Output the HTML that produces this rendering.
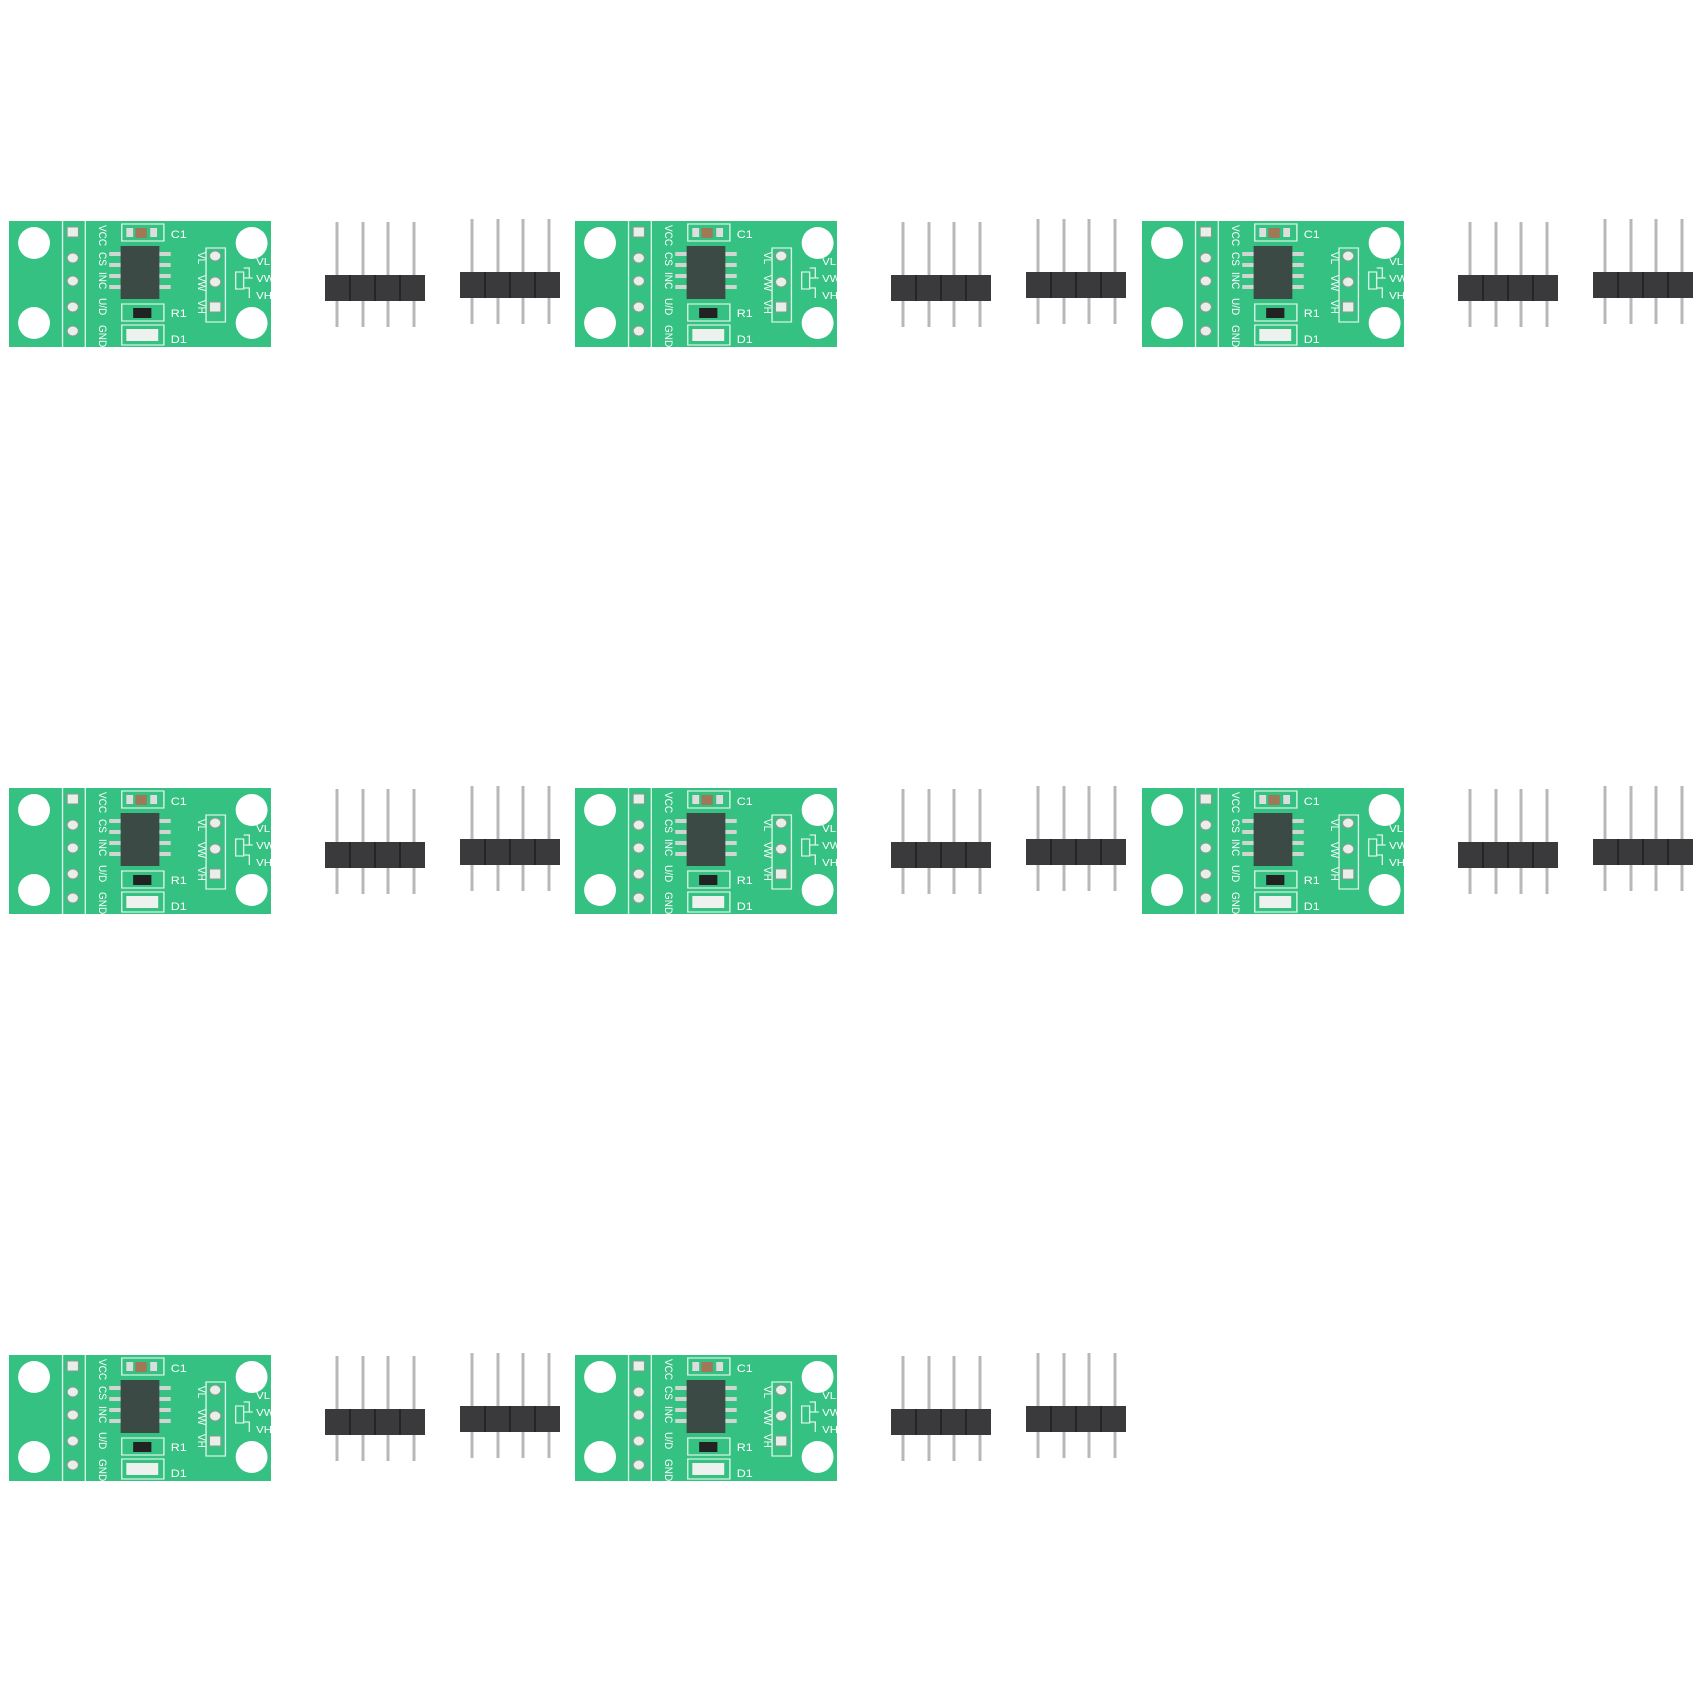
<!DOCTYPE html>
<html><head><meta charset="utf-8"><style>
html,body{margin:0;padding:0;background:#fff;}
svg{display:block;}
text{font-family:"Liberation Sans",sans-serif;}
</style></head><body>
<svg width="1700" height="1700" viewBox="0 0 1700 1700" xmlns="http://www.w3.org/2000/svg">
<defs>
<g id="hdr">
  <g stroke="#b8b8b8" stroke-width="3">
    <line x1="12" y1="0" x2="12" y2="105"/><line x1="38" y1="0" x2="38" y2="105"/>
    <line x1="63" y1="0" x2="63" y2="105"/><line x1="89" y1="0" x2="89" y2="105"/>
  </g>
  <rect x="0" y="53" width="100" height="26" fill="#3a3a3c"/>
  <g stroke="#1e1e1e" stroke-width="1.5">
    <line x1="25" y1="53" x2="25" y2="79"/><line x1="50" y1="53" x2="50" y2="79"/><line x1="75" y1="53" x2="75" y2="79"/>
  </g>
</g>
<g id="board">
  <rect x="7" y="221" width="230" height="126" fill="#34c182"/>
  <g stroke="#d9f5e7" stroke-width="1.2" fill="none">
    <line x1="54" y1="221" x2="54" y2="347"/><line x1="74" y1="221" x2="74" y2="347"/>
    <rect x="106" y="224" width="37" height="17"/>
    <rect x="106" y="304" width="37" height="17"/>
    <rect x="106" y="325" width="37" height="20"/>
    <rect x="180" y="248" width="17" height="74"/>
    <path d="M213 268 h5 v10 M213 278 h8 M213 288 h5 v10"/>
    <rect x="206" y="272" width="7" height="17"/>
  </g>
  <ellipse cx="29" cy="243" rx="14" ry="16" fill="#fff"/>
  <ellipse cx="29" cy="323" rx="14" ry="16" fill="#fff"/>
  <ellipse cx="220" cy="243" rx="14" ry="16" fill="#fff"/>
  <ellipse cx="220" cy="323" rx="14" ry="16" fill="#fff"/>
  <g fill="#e8efe9" stroke="#8a9a90" stroke-width="1">
    <rect x="58" y="227" width="10" height="10"/>
    <circle cx="63" cy="258" r="5"/><circle cx="63" cy="281" r="5"/>
    <circle cx="63" cy="307" r="5"/><circle cx="63" cy="331" r="5"/>
    <circle cx="188" cy="256" r="5"/><circle cx="188" cy="282" r="5"/>
    <rect x="183" y="302" width="10" height="10"/>
  </g>
  <rect x="118" y="228" width="10" height="10" fill="#a07858"/>
  <rect x="110" y="228" width="6" height="9" fill="#ddd"/>
  <rect x="131" y="228" width="6" height="9" fill="#ddd"/>
  <g fill="#cfd6d2">
    <rect x="95" y="252" width="12" height="4"/><rect x="95" y="263" width="12" height="4"/>
    <rect x="95" y="274" width="12" height="4"/><rect x="95" y="285" width="12" height="4"/>
    <rect x="137" y="252" width="12" height="4"/><rect x="137" y="263" width="12" height="4"/>
    <rect x="137" y="274" width="12" height="4"/><rect x="137" y="285" width="12" height="4"/>
  </g>
  <rect x="105" y="246" width="34" height="53" fill="#3b4a45"/>
  <rect x="116" y="308" width="16" height="10" fill="#222"/>
  <rect x="110" y="329" width="28" height="12" fill="#eef2ef"/>
  <g fill="#fff" font-size="11">
    <text x="149" y="238">C1</text><text x="149" y="317">R1</text><text x="149" y="343">D1</text>
    <text x="224" y="265" font-size="10">VL</text><text x="224" y="282" font-size="10">VW</text><text x="224" y="299" font-size="10">VH</text>
    <text transform="translate(86,225) rotate(90)" font-size="10">VCC</text>
    <text transform="translate(86,252) rotate(90)" font-size="10">CS</text>
    <text transform="translate(86,272) rotate(90)" font-size="10">INC</text>
    <text transform="translate(86,298) rotate(90)" font-size="10">U/D</text>
    <text transform="translate(86,325) rotate(90)" font-size="10">GND</text>
    <text transform="translate(173,252) rotate(90)" font-size="10">VL</text>
    <text transform="translate(173,275) rotate(90)" font-size="10">VW</text>
    <text transform="translate(173,300) rotate(90)" font-size="10">VH</text>
  </g>
</g>
<g id="brd">
  <use href="#board" transform="translate(9,0) scale(1.139,1) translate(-7,0)"/>
  <use href="#hdr" x="325" y="222"/>
  <use href="#hdr" x="460" y="219"/>
</g>
</defs>
<use href="#brd" transform="translate(0,0)"/>
<use href="#brd" transform="translate(566,0)"/>
<use href="#brd" transform="translate(1133,0)"/>
<use href="#brd" transform="translate(0,567)"/>
<use href="#brd" transform="translate(566,567)"/>
<use href="#brd" transform="translate(1133,567)"/>
<use href="#brd" transform="translate(0,1134)"/>
<use href="#brd" transform="translate(566,1134)"/>
</svg>
</body></html>
